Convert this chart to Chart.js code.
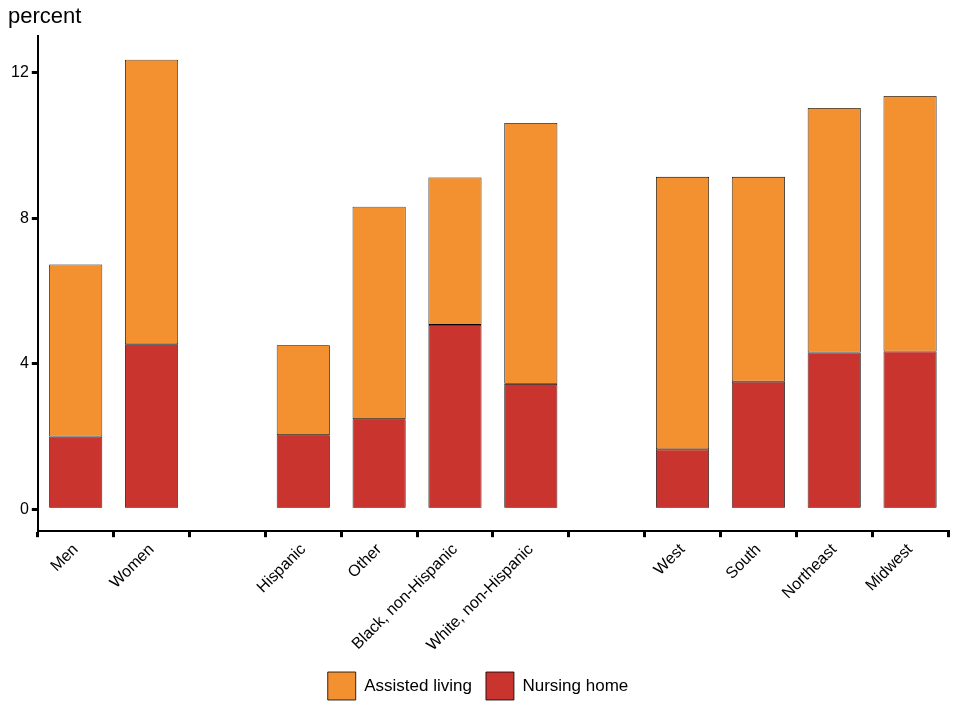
<!DOCTYPE html>
<html>
<head>
<script src="https://cdn.jsdelivr.net/npm/chart.js@4"></script>
<style>body{margin:0;background:#fff}#wrap{width:960px;height:720px}</style>
</head>
<body>
<div id="wrap"><canvas id="myChart"></canvas></div>
<script>
var categories = ['Men', 'Women', '', 'Hispanic', 'Other', 'Black, non-Hispanic', 'White, non-Hispanic', '', 'West', 'South', 'Northeast', 'Midwest'];
var nursingHome = [2.0, 4.54, null, 2.04, 2.48, 5.07, 3.45, null, 1.65, 3.51, 4.31, 4.34];
var assistedLiving = [4.73, 7.82, null, 2.47, 5.84, 4.05, 7.17, null, 7.49, 5.63, 6.72, 7.02];
var yTicks = [0, 4, 8, 12];

var font = { family: "Arial, 'Liberation Sans', sans-serif", size: 16 };
var ctx = document.getElementById('myChart').getContext('2d');
new Chart(ctx, {
  type: 'bar',
  data: {
    labels: categories,
    datasets: [
      { label: 'Nursing home', data: nursingHome, backgroundColor: '#C9342F', borderColor: '#000', borderWidth: 0.8, borderSkipped: false },
      { label: 'Assisted living', data: assistedLiving, backgroundColor: '#F39130', borderColor: '#000', borderWidth: 0.8, borderSkipped: false }
    ]
  },
  options: {
    responsive: true,
    maintainAspectRatio: false,
    animation: false,
    layout: { padding: { left: 8, right: 12, top: 4, bottom: 10 } },
    datasets: { bar: { barPercentage: 0.7, categoryPercentage: 1 } },
    scales: {
      x: {
        stacked: true,
        border: { color: '#000', width: 2 },
        grid: { drawOnChartArea: false, color: '#000', lineWidth: 3, tickLength: 6 },
        ticks: { color: '#000', font: font, maxRotation: 45, minRotation: 45, autoSkip: false }
      },
      y: {
        stacked: true,
        min: -0.6,
        max: 13,
        afterBuildTicks: function(axis) { axis.ticks = yTicks.map(function(v) { return { value: v }; }); },
        border: { color: '#000', width: 2 },
        grid: { drawOnChartArea: false, color: '#000', lineWidth: 3, tickLength: 6 },
        ticks: { color: '#000', font: font }
      }
    },
    plugins: {
      title: { display: true, text: 'percent', align: 'start', color: '#000', font: { family: font.family, size: 22, weight: 'normal' }, padding: { top: 0, bottom: 6 } },
      legend: {
        position: 'bottom',
        reverse: true,
        labels: { color: '#000', font: { family: font.family, size: 17 }, boxWidth: 28, boxHeight: 28, padding: 14 }
      },
      tooltip: { enabled: false }
    }
  }
});
</script>
</body>
</html>
